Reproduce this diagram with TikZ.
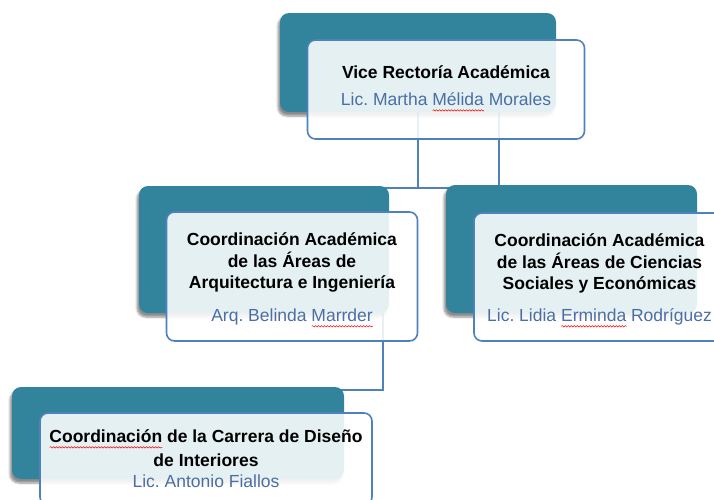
\documentclass[tikz,border=0pt]{standalone}
\usepackage{fontspec}
\setmainfont{Liberation Sans}
\usetikzlibrary{calc,shadows.blur,decorations.pathmorphing}
\pgfdeclarelayer{back}
\pgfsetlayers{back,main}
\frenchspacing
\newlength\wavewd
\newcommand\spellwave[1]{\settowidth\wavewd{#1}\rlap{\tikz[baseline=0pt,x=1pt,y=1pt,sharp corners]
  \draw[red, line width=0.5pt, decorate, decoration={snake, amplitude=0.7pt, segment length=3pt}]
  (0,-4.5) -- (\the\wavewd,-4.5);}#1}
\definecolor{tealbox}{RGB}{49,132,155}
\definecolor{edgeblue}{RGB}{79,129,189}
\definecolor{nameblue}{RGB}{74,110,166}

\begin{document}
\begin{tikzpicture}[x=1pt,y=-1pt,
    tealback/.style={fill=tealbox, rounded corners=9pt, inner sep=0pt,
      blur shadow={shadow xshift=-2pt, shadow yshift=-4pt, shadow opacity=45, shadow blur steps=6}},
    card/.style={draw=edgeblue, line width=1.6pt, fill=white, fill opacity=0.88, text opacity=1,
      rounded corners=8pt, inner sep=0pt, align=center, font=\fontsize{17.5}{21.5}\selectfont},
    conn/.style={draw=edgeblue, line width=1.6pt}
    ]
    \useasboundingbox (0,0) rectangle (714,499);
    \clip (0,0) rectangle (714,499);

    \node[tealback, minimum width=276pt, minimum height=99pt]  (vice-bg) at (418,62.5) {};
    \node[tealback, minimum width=250pt, minimum height=127pt] (cai-bg)  at (264,249.5) {};
    \node[tealback, minimum width=251pt, minimum height=128pt] (ccse-bg) at (571.5,249) {};
    \node[tealback, minimum width=332pt, minimum height=92pt]  (cdi-bg)  at (178,433) {};

    \node[card, minimum width=277pt, minimum height=99pt] (vice) at ($(vice-bg)+(28,27)$)
      {\textbf{Vice Rectoría Académica}\\[5.5pt]
       \color{nameblue}Lic. Martha \spellwave{Mélida} Morales\rule[-7pt]{0pt}{1pt}};
    \node[card, minimum width=251pt, minimum height=129pt] (cai) at ($(cai-bg)+(28,27)$)
      {\textbf{\rule{0pt}{20pt}Coordinación Académica}\\\textbf{de las Áreas de}\\\textbf{Arquitectura e Ingeniería}\\[11.5pt]
       \color{nameblue}Arq. Belinda \spellwave{Marrder}};
    \node[card, minimum width=251pt, minimum height=128pt] (ccse) at ($(ccse-bg)+(28,28)$)
      {\textbf{\rule{0pt}{20pt}Coordinación Académica}\\\textbf{de las Áreas de Ciencias}\\\textbf{Sociales y Económicas}\\[10.5pt]
       \color{nameblue}Lic. Lidia \spellwave{Erminda} Rodríguez};
    \node[card, minimum width=332pt, minimum height=92pt] (cdi) at ($(cdi-bg)+(28,26)$)
      {\textbf{\spellwave{Coordinación} de la Carrera de Diseño}\\[2.5pt]\textbf{de Interiores}\\[-0.5pt]
       \color{nameblue}Lic. Antonio Fiallos};

    \begin{pgfonlayer}{back}
      \draw[conn] (vice-bg.south) |- ($(cai-bg.north)+(0,2)$);
      \draw[conn] ($(vice-bg.south)+(81,0)$) |- ($(cai-bg.north)+(0,2)$);
      \draw[conn] ($(cai-bg.south east)+(-6,0)$) |- ($(cdi-bg.north)+(0,3)$);
    \end{pgfonlayer}
\end{tikzpicture}
\end{document}
